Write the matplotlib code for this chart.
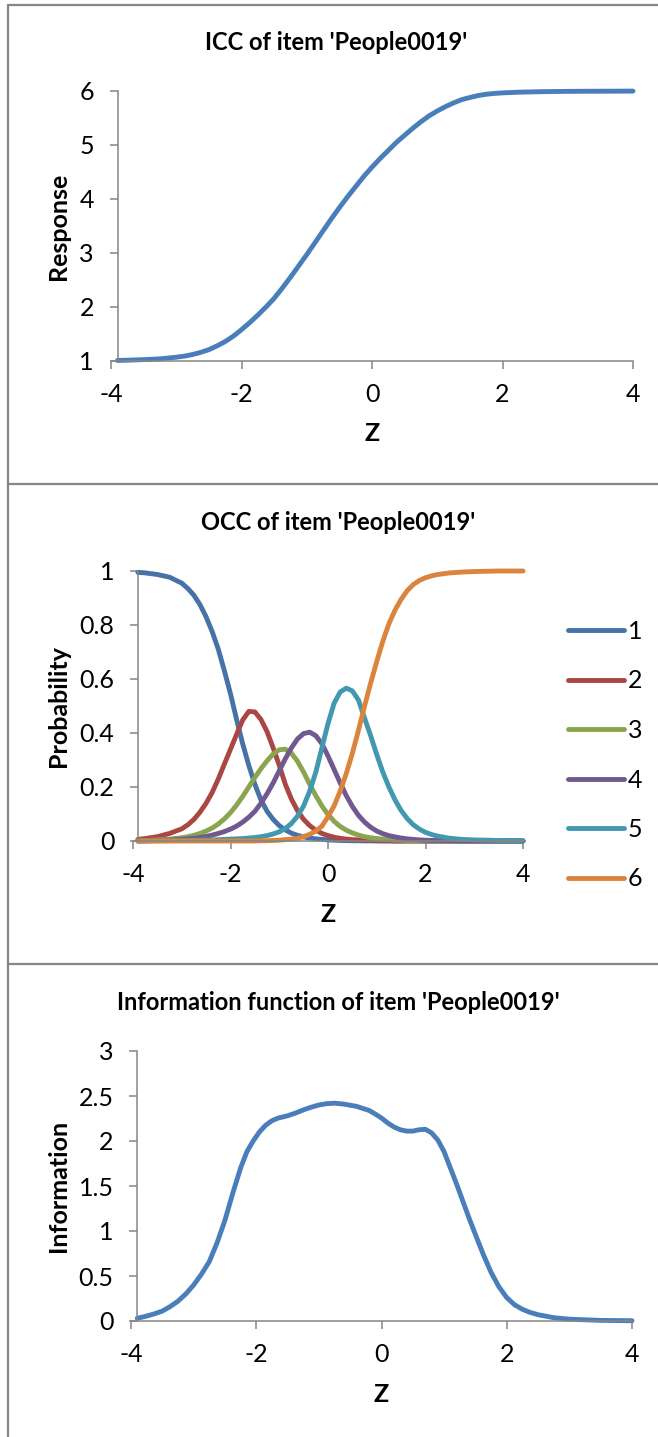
import matplotlib
matplotlib.use("Agg")
import matplotlib.pyplot as plt
from matplotlib.lines import Line2D

plt.rcParams['font.family'] = ['Lato', 'DejaVu Sans']
plt.rcParams['lines.solid_capstyle'] = 'round'
plt.rcParams['lines.solid_joinstyle'] = 'round'

# ---------------- data ----------------
Z_ICC = [-3.9, -3.75, -3.5, -3.25, -3.0, -2.875, -2.75, -2.625, -2.5, -2.375, -2.25, -2.125,
         -2.0, -1.875, -1.75, -1.625, -1.5, -1.375, -1.25, -1.125, -1.0, -0.875, -0.75,
         -0.625, -0.5, -0.375, -0.25, -0.125, 0.0, 0.125, 0.25, 0.375, 0.5, 0.625, 0.75,
         0.875, 1.0, 1.125, 1.25, 1.375, 1.5, 1.625, 1.75, 1.875, 2.0, 2.25, 2.5, 2.75,
         3.0, 3.25, 3.5, 3.75, 4.0]
icc_response = [1.01, 1.015, 1.025, 1.04, 1.07, 1.09, 1.12, 1.16, 1.21, 1.28, 1.36, 1.46,
                1.58, 1.71, 1.85, 2.0, 2.16, 2.35, 2.55, 2.76, 2.97, 3.19, 3.41,
                3.63, 3.84, 4.04, 4.23, 4.42, 4.59, 4.75, 4.9, 5.05, 5.18, 5.31, 5.43,
                5.54, 5.63, 5.71, 5.78, 5.84, 5.88, 5.915, 5.94, 5.955, 5.965, 5.978, 5.985, 5.99,
                5.993, 5.995, 5.996, 5.997, 5.998]

Z_OCC = [-3.9, -3.75, -3.5, -3.25, -3.0, -2.875, -2.75, -2.625, -2.5, -2.375, -2.25, -2.125,
         -2.0, -1.875, -1.75, -1.625, -1.5, -1.375, -1.25, -1.125, -1.0, -0.875, -0.75,
         -0.625, -0.5, -0.375, -0.25, -0.125, 0.0, 0.125, 0.25, 0.375, 0.5, 0.625, 0.75,
         0.875, 1.0, 1.125, 1.25, 1.375, 1.5, 1.625, 1.75, 1.875, 2.0, 2.125, 2.25, 2.5,
         2.75, 3.0, 3.25, 3.5, 3.75, 4.0]
occ_1 = [0.995, 0.993, 0.987, 0.977, 0.955, 0.935, 0.91, 0.875, 0.83, 0.775, 0.71, 0.63,
         0.545, 0.45, 0.36, 0.28, 0.21, 0.152, 0.11, 0.08, 0.057, 0.041, 0.029,
         0.021, 0.015, 0.011, 0.008, 0.006, 0.004, 0.003, 0.002, 0.0015, 0.001, 0.001, 0.0005,
         0.0005, 0.0, 0.0, 0.0, 0.0, 0.0, 0.0, 0.0, 0.0, 0.0, 0.0, 0.0, 0.0,
         0.0, 0.0, 0.0, 0.0, 0.0, 0.0]
occ_2 = [0.006, 0.009, 0.016, 0.028, 0.045, 0.06, 0.08, 0.107, 0.14, 0.18, 0.23, 0.285,
         0.34, 0.395, 0.448, 0.48, 0.478, 0.45, 0.405, 0.345, 0.28, 0.21, 0.155,
         0.112, 0.08, 0.057, 0.04, 0.028, 0.02, 0.014, 0.01, 0.007, 0.005, 0.004, 0.003,
         0.002, 0.0015, 0.001, 0.001, 0.0, 0.0, 0.0, 0.0, 0.0, 0.0, 0.0, 0.0, 0.0,
         0.0, 0.0, 0.0, 0.0, 0.0, 0.0]
occ_3 = [0.001, 0.002, 0.004, 0.007, 0.012, 0.016, 0.021, 0.028, 0.037, 0.048, 0.063, 0.082,
         0.105, 0.133, 0.165, 0.2, 0.235, 0.268, 0.297, 0.322, 0.338, 0.34, 0.325,
         0.295, 0.255, 0.21, 0.168, 0.13, 0.098, 0.073, 0.054, 0.04, 0.03, 0.022, 0.016,
         0.012, 0.009, 0.007, 0.005, 0.004, 0.003, 0.002, 0.0015, 0.001, 0.001, 0.0, 0.0, 0.0,
         0.0, 0.0, 0.0, 0.0, 0.0, 0.0]
occ_4 = [0.0, 0.001, 0.002, 0.003, 0.006, 0.008, 0.01, 0.013, 0.017, 0.022, 0.028, 0.035,
         0.044, 0.055, 0.07, 0.088, 0.11, 0.14, 0.175, 0.215, 0.26, 0.305, 0.345,
         0.378, 0.398, 0.403, 0.39, 0.36, 0.315, 0.265, 0.215, 0.168, 0.128, 0.095, 0.07,
         0.051, 0.037, 0.027, 0.02, 0.015, 0.011, 0.008, 0.006, 0.004, 0.003, 0.002, 0.002, 0.001,
         0.0005, 0.0, 0.0, 0.0, 0.0, 0.0]
occ_5 = [0.0, 0.0, 0.001, 0.001, 0.002, 0.002, 0.003, 0.003, 0.004, 0.004, 0.005, 0.006,
         0.007, 0.008, 0.009, 0.011, 0.013, 0.016, 0.02, 0.026, 0.034, 0.046, 0.065,
         0.092, 0.13, 0.185, 0.255, 0.345, 0.435, 0.51, 0.552, 0.566, 0.556, 0.522, 0.455,
         0.39, 0.32, 0.255, 0.2, 0.152, 0.113, 0.083, 0.06, 0.044, 0.032, 0.024, 0.018, 0.01,
         0.006, 0.004, 0.003, 0.002, 0.001, 0.001]
occ_6 = [0.0, 0.0, 0.0, 0.0, 0.0, 0.0, 0.0, 0.0, 0.0, 0.0, 0.0, 0.0,
         0.0, 0.0, 0.0, 0.0, 0.0, 0.001, 0.001, 0.002, 0.003, 0.005, 0.007,
         0.01, 0.016, 0.025, 0.037, 0.055, 0.09, 0.13, 0.185, 0.25, 0.325, 0.41, 0.5,
         0.585, 0.665, 0.74, 0.805, 0.855, 0.895, 0.927, 0.95, 0.965, 0.975, 0.982, 0.987, 0.993,
         0.996, 0.998, 0.999, 1.0, 1.0, 1.0]
occ_series = [occ_1, occ_2, occ_3, occ_4, occ_5, occ_6]
occ_labels = ['1', '2', '3', '4', '5', '6']

Z_INFO = [-3.9, -3.75, -3.625, -3.5, -3.375, -3.25, -3.125, -3.0, -2.875, -2.75, -2.625,
          -2.5, -2.375, -2.25, -2.15, -2.05, -1.95, -1.85, -1.75, -1.65, -1.5, -1.375, -1.25,
          -1.125, -1.0, -0.875, -0.75, -0.6, -0.4, -0.2, -0.1, 0.0, 0.1, 0.2, 0.3, 0.4,
          0.5, 0.6, 0.7, 0.8, 0.9, 1.0, 1.1, 1.2, 1.3, 1.4, 1.5, 1.625, 1.75, 1.875, 2.0,
          2.125, 2.25, 2.375, 2.5, 2.75, 3.0, 3.5, 4.0]
information = [0.03, 0.055, 0.08, 0.11, 0.16, 0.22, 0.30, 0.40, 0.52, 0.66, 0.87,
               1.12, 1.42, 1.70, 1.88, 2.00, 2.10, 2.175, 2.225, 2.255, 2.28, 2.31, 2.345,
               2.375, 2.40, 2.415, 2.42, 2.41, 2.385, 2.34, 2.30, 2.255, 2.20, 2.155, 2.125, 2.11,
               2.11, 2.125, 2.13, 2.09, 2.01, 1.88, 1.70, 1.52, 1.33, 1.14, 0.96, 0.74, 0.54, 0.38, 0.26,
               0.18, 0.13, 0.095, 0.07, 0.037, 0.02, 0.007, 0.003]

assert len(Z_ICC) == len(icc_response)
assert all(len(s) == len(Z_OCC) for s in occ_series)
assert len(Z_INFO) == len(information)

X_TICKS = [-4, -2, 0, 2, 4]
ICC_YTICKS = [1, 2, 3, 4, 5, 6]
OCC_YTICKS = [0, 0.2, 0.4, 0.6, 0.8, 1]
OCC_YLABELS = ['0', '0.2', '0.4', '0.6', '0.8', '1']
INFO_YTICKS = [0, 0.5, 1, 1.5, 2, 2.5, 3]
INFO_YLABELS = ['0', '0.5', '1', '1.5', '2', '2.5', '3']

TITLE_ICC = "ICC of item 'People0019'"
TITLE_OCC = "OCC of item 'People0019'"
TITLE_INFO = "Information function of item 'People0019'"

# ---------------- styling ----------------
W, H = 658, 1437
fig = plt.figure(figsize=(W / 100, H / 100), dpi=100)
GRAY = '#868686'
MAIN_BLUE = '#4A7EBB'
OCC_COLORS = ['#4572A7', '#AA4643', '#89A54E', '#71588F', '#4198AF', '#DB843D']
TICK_FS = 18
LABEL_FS = 18
TITLE_FS = 17
LW = 3.5


def fx(px):
    return px / W


def fy(py):
    return 1 - py / H


def make_axes(x0, x1, ytop, ybot):
    return fig.add_axes([fx(x0), fy(ybot), fx(x1) - fx(x0), fy(ytop) - fy(ybot)])


def style(ax, ylim, yticks, ylabels):
    ax.set_xlim(-4, 4)
    ax.set_ylim(*ylim)
    ax.set_xticks(X_TICKS)
    ax.set_xticklabels([str(t) for t in X_TICKS])
    ax.set_yticks(yticks)
    ax.set_yticklabels(ylabels)
    for s in ('top', 'right'):
        ax.spines[s].set_visible(False)
    ax.spines['left'].set_position(('data', -3.9))
    for s in ('left', 'bottom'):
        ax.spines[s].set_color(GRAY)
        ax.spines[s].set_linewidth(1.1)
    ax.tick_params(axis='both', direction='out', length=6, width=1.1, color=GRAY,
                   labelsize=TICK_FS, labelcolor='black')
    ax.tick_params(axis='x', pad=10)
    ax.tick_params(axis='y', pad=11)
    ax.patch.set_visible(False)


# panel 1
ax1 = make_axes(111, 633, 91, 361)
ax1.plot(Z_ICC, icc_response, color=MAIN_BLUE, lw=LW, clip_on=False)
style(ax1, (1, 6), ICC_YTICKS, [str(t) for t in ICC_YTICKS])

# panel 2
ax2 = make_axes(133, 523, 571, 841)
for ser, col, lab in zip(occ_series, OCC_COLORS, occ_labels):
    ax2.plot(Z_OCC, ser, color=col, lw=LW, label=lab, clip_on=False)
style(ax2, (0, 1), OCC_YTICKS, OCC_YLABELS)
leg = ax2.legend(loc='upper left', bbox_to_anchor=(fx(568), fy(620)),
                 bbox_transform=fig.transFigure, frameon=False, fontsize=TICK_FS,
                 handlelength=2.25, handletextpad=0.15, labelspacing=1.06,
                 borderaxespad=0, borderpad=0)

# panel 3
ax3 = make_axes(131, 632, 1051, 1321)
ax3.plot(Z_INFO, information, color=MAIN_BLUE, lw=LW, clip_on=False)
style(ax3, (0, 3), INFO_YTICKS, INFO_YLABELS)

# titles and axis labels
fig.text(fx(336), fy(42), TITLE_ICC, ha='center', va='center', fontsize=TITLE_FS, fontweight='bold')
fig.text(fx(338), fy(522), TITLE_OCC, ha='center', va='center', fontsize=TITLE_FS, fontweight='bold')
fig.text(fx(338), fy(1002), TITLE_INFO, ha='center', va='center', fontsize=TITLE_FS, fontweight='bold')

fig.text(fx(58), fy(226), 'Response', rotation=90, ha='center', va='center', fontsize=LABEL_FS, fontweight='bold')
fig.text(fx(58), fy(706), 'Probability', rotation=90, ha='center', va='center', fontsize=LABEL_FS, fontweight='bold')
fig.text(fx(58), fy(1186), 'Information', rotation=90, ha='center', va='center', fontsize=LABEL_FS, fontweight='bold')

fig.text(fx(372), fy(434), 'Z', ha='center', va='center', fontsize=LABEL_FS, fontweight='bold')
fig.text(fx(328), fy(915), 'Z', ha='center', va='center', fontsize=LABEL_FS, fontweight='bold')
fig.text(fx(381), fy(1395), 'Z', ha='center', va='center', fontsize=LABEL_FS, fontweight='bold')

# panel frame lines
frame_kw = dict(color=GRAY, lw=1.6, transform=fig.transFigure)
fig.add_artist(Line2D([fx(8), fx(8)], [fy(4.5), fy(1437)], **frame_kw))
fig.add_artist(Line2D([fx(8), fx(658)], [fy(4.5), fy(4.5)], **frame_kw))
fig.add_artist(Line2D([fx(8), fx(658)], [fy(484), fy(484)], **frame_kw))
fig.add_artist(Line2D([fx(8), fx(658)], [fy(964), fy(964)], **frame_kw))

fig.savefig('out.png', dpi=100, facecolor='white')
